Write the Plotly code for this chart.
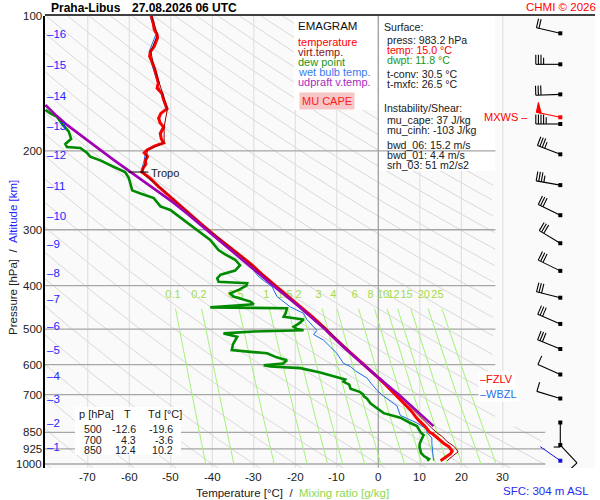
import numpy as np
import plotly.graph_objects as go

W, H = 600, 500
ML, MR, MT, MB = 45, 5, 16, 32
PW, PH = W - ML - MR, H - MT - MB
DEC_PX = 448.0                      # pixels per decade of pressure
T_MIN, T_MAX = -80.3, 52.2
PX_T = PW / (T_MAX - T_MIN)
LOGP_BOTTOM = 2 + PH / DEC_PX
T_CLIP_UP, T_CLIP_LOW, P_SPLIT = 28.2, 40.2, 820
FONT = "Liberation Sans, Arial, sans-serif"

# ---- sounding data ----
T_P = [983.2, 975, 961, 948, 936, 925, 915, 900, 885, 870, 855, 850, 823, 800, 785, 760, 730, 700,
       670, 643, 620, 600, 570, 540, 506, 500, 470, 446, 420, 400, 380, 357, 333, 310, 290, 270,
       257, 240, 230, 223, 218, 214, 210, 206, 202, 199, 195, 192, 188, 183, 177, 173, 169, 165,
       161, 158, 153, 149, 145, 141, 137, 132, 128, 123, 120, 117, 115, 112, 110, 107, 104, 102, 100]
T_C = [15.0, 15.6, 16.5, 17.4, 17.8, 17.4, 17.0, 15.8, 14.9, 14.1, 13.0, 12.4, 11.2, 9.8, 9.0, 7.9, 6.1, 4.3,
       2.1, 0.1, -1.8, -3.7, -6.3, -9.0, -12.2, -12.6, -15.8, -18.8, -22.0, -24.8, -27.6, -30.8, -34.9, -39.2, -42.9, -46.8,
       -49.3, -53.0, -55.0, -57.0, -56.6, -56.0, -56.1, -55.6, -56.4, -55.7, -53.8, -51.7, -52.3, -52.5, -51.7, -52.6, -52.9, -52.4,
       -50.9, -51.3, -51.8, -52.1, -53.3, -53.0, -53.3, -53.8, -54.3, -55.1, -54.9, -54.0, -53.7, -53.2, -53.3, -54.0, -54.2, -54.5, -54.7]

TV_P = [983.2, 970, 955, 940, 925, 910, 890, 870, 850, 830, 810, 785, 760, 730, 700, 643, 600, 500, 400,
        333, 290, 257, 223, 210, 199, 192, 177, 161, 149, 137, 128, 120, 110, 100]
TV_C = [16.6, 17.3, 18.2, 19.2, 18.8, 18.0, 16.5, 15.5, 14.0, 12.8, 11.6, 10.2, 8.6, 6.8, 4.9, 0.5, -3.5, -12.4, -24.7,
        -34.8, -42.8, -49.2, -56.9, -56.0, -55.6, -51.6, -51.6, -50.8, -52.0, -53.2, -54.2, -54.8, -53.2, -54.6]

TD_P = [983.2, 975, 960, 945, 930, 915, 899, 880, 862, 850, 835, 823, 810, 795, 788, 770, 759, 745, 732, 715,
        706, 700, 690, 679, 665, 655, 648, 640, 625, 611, 606, 602, 597, 592, 587, 578, 571, 566, 562, 557,
        540, 520, 511, 506, 503, 500, 494, 485, 476, 469, 460, 449, 447, 440, 434, 428, 423, 416, 408, 400,
        395, 392, 385, 378, 370, 360, 350, 340, 333, 316, 300, 285, 271, 266, 255, 249, 245, 230, 223, 217,
        210, 206, 202, 197, 196, 193, 188, 181, 175, 168, 165, 162]
TD_C = [11.8, 12.2, 11.0, 10.3, 10.1, 9.9, 10.0, 10.4, 10.9, 10.2, 9.8, 9.3, 7.7, 6.0, 5.3, 1.3, 0.5, -0.8, -1.9, -2.7,
        -3.5, -3.6, -4.5, -6.7, -7.0, -8.4, -8.0, -10.0, -14.0, -18.8, -26.0, -27.6, -23.0, -22.5, -22.0, -24.5, -26.0, -26.8, -30.8, -35.3,
        -35.0, -34.0, -37.3, -30.0, -18.0, -19.6, -20.4, -19.0, -18.0, -22.8, -22.3, -22.0, -40.5, -30.0, -30.8, -33.0, -34.9, -35.7, -33.5, -31.8,
        -31.6, -38.5, -38.8, -38.0, -34.5, -33.3, -34.5, -37.0, -38.5, -40.5, -43.7, -46.9, -50.1, -52.5, -54.1, -57.3, -59.3, -60.1, -61.0, -63.8,
        -67.0, -69.4, -70.2, -71.8, -75.0, -75.4, -74.0, -74.6, -76.0, -77.4, -79.0, -80.2]

TW_P = [983.2, 960, 930, 900, 875, 850, 836, 810, 779, 742, 706, 685, 660, 643, 620, 606, 596, 566, 529, 514,
        503, 476, 461, 446, 423, 402, 382, 363, 333, 290, 257, 223, 210, 199, 192, 183, 177, 169, 161, 149,
        137, 128, 120, 110, 100]
TW_C = [13.3, 13.2, 12.9, 12.9, 12.9, 11.7, 11.7, 9.3, 5.3, 4.5, 1.3, -0.3, -1.8, -2.7, -5.5, -6.7, -8.4, -10.0, -13.2, -15.6,
        -14.8, -17.2, -18.0, -21.2, -24.4, -25.6, -28.8, -30.8, -35.2, -43.2, -49.6, -57.2, -56.4, -56.0, -52.0, -52.8, -52.0, -53.2, -51.2, -52.4,
        -53.6, -54.6, -55.2, -53.6, -55.0]

UP_P = [823, 800, 760, 700, 643, 600, 550, 500, 446, 400, 360, 330, 295, 276, 260, 240, 221, 210, 199, 187, 175, 166, 158]
UP_C = [13.3, 11.8, 9.0, 4.9, 0.1, -3.6, -8.2, -12.9, -19.0, -25.3, -31.2, -35.9, -42.3, -46.1, -49.6, -54.9, -60.5, -63.6, -67.0, -71.0, -75.0, -77.8, -80.2]

TROPO_P, TROPO_T = 223, -57.0
FZLV_P, WBZL_P = 646, 699

# wind barbs: pressure, direction (deg), speed (kt)
WIND_P = [109.3, 128.2, 149.6, 174.2, 203.6, 238.5, 278.4, 321.5, 370.6, 425.4, 486.8, 553.8, 631.3, 714.2, 808, 907]
WIND_DIR = [283, 270, 268, 270, 291, 280, 296, 301, 296, 284, 293, 292, 294, 287, 180, 137]
WIND_SPD = [20, 35, 30, 45, 35, 35, 30, 30, 30, 30, 30, 30, 10, 10, 5, 10]
MXWS_P, MXWS_DIR, MXWS_SPD = 168.3, 282, 50
SFC_P, SFC_DIR, SFC_SPD = 983.2, 305, 0

# altitude scale (km) on the pressure axis
ALT_KM = list(range(1, 17))
ALT_P = [916, 810, 716, 636, 557, 492, 428, 375, 323, 280, 240, 204, 176, 151, 128.6, 109.7]

P_LEVELS = [200, 300, 400, 500, 600, 700, 850, 925, 1000]
P_TICKS = [100, 200, 300, 400, 500, 600, 700, 850, 925, 1000]
T_TICKS = [-70, -60, -50, -40, -30, -20, -10, 0, 10, 20, 30]
MIX_W = [0.1, 0.2, 0.5, 1, 1.5, 2, 3, 4, 6, 8, 10, 12, 15, 20, 25]
MIX_LBL = ["0.1", "0.2", "0.5", "1", "1.5", "2", "3", "4", "6", "8", "10", "12", "15", "20", "25"]

TABLE_P = ["500", "700", "850"]
TABLE_T = ["-12.6", "4.3", "12.4"]
TABLE_TD = ["-19.6", "-3.6", "10.2"]

SURFACE_LINES = [("Surface:", "#202020", 0), ("press: 983.2 hPa", "#202020", 1), ("temp: 15.0 °C", "#ff0000", 1),
                 ("dwpt: 11.8 °C", "#1a961a", 1), ("t-conv: 30.5 °C", "#202020", 1), ("t-mxfc: 26.5 °C", "#202020", 1),
                 ("Instability/Shear:", "#202020", 0), ("mu_cape: 37 J/kg", "#202020", 1), ("mu_cinh: -103 J/kg", "#202020", 1),
                 ("bwd_06: 15.2 m/s", "#202020", 1), ("bwd_01: 4.4 m/s", "#202020", 1), ("srh_03: 51 m2/s2", "#202020", 1)]
SURFACE_Y = [27, 40, 50, 60, 74, 84, 108, 120, 130, 145, 155, 165]
LEGEND_LINES = [("temperature", "#ff0000"), ("virt.temp.", "#8c1010"), ("dew point", "#1a961a"),
                ("wet bulb temp.", "#3a78f0"), ("udpraft v.temp.", "#a82cc0")]


def ypix(p):
    return MT + DEC_PX * np.log10(p / 100.0)


def paper_x(x):
    return (x - ML) / PW


def paper_y(y):
    return (MT + PH - y) / PH


def pfrom_px(y):
    return 100.0 * 10 ** ((y - MT) / DEC_PX)


def tfrom_px(x):
    return T_MIN + (x - ML) / PX_T


def segs(lines):
    xs, ys = [], []
    for lx, ly in lines:
        xs += list(lx) + [None]
        ys += list(ly) + [None]
    return xs, ys


def line_trace(xs, ys, color, width=1.0):
    return go.Scatter(x=xs, y=ys, mode="lines", line=dict(color=color, width=width),
                      hoverinfo="skip", showlegend=False)


fig = go.Figure()

# dry adiabats
p_line = np.geomspace(100, 1000 * 10 ** ((PH - DEC_PX) / DEC_PX), 220)
adia = []
for t0 in range(-120, 330, 10):
    t = (t0 + 273.15) * (p_line / 1000.0) ** 0.286 - 273.15
    lim = np.where(p_line < P_SPLIT, T_CLIP_UP, T_CLIP_LOW)
    tt = [float(a) if a <= l else None for a, l in zip(t, lim)]
    adia.append((tt, p_line.tolist()))
fig.add_trace(line_trace(*segs(adia), "#d9d9d9", 1))

# light isotherms
iso = [([t, t], [100, 1020]) for t in T_TICKS if t != 0]
fig.add_trace(line_trace(*segs(iso), "#dcdcdc", 1))

# white text boxes (cover adiabats / isotherms)
for x0, x1, y0, y1 in [(294, 377, 16, 110), (379, 495, 16, 171)]:
    t0, t1 = tfrom_px(x0), tfrom_px(x1)
    p0, p1 = pfrom_px(y0), pfrom_px(y1)
    fig.add_trace(go.Scatter(x=[t0, t1, t1, t0, t0], y=[p0, p0, p1, p1, p0], fill="toself",
                             fillcolor="white", mode="lines", line=dict(width=0),
                             hoverinfo="skip", showlegend=False))

# isobars and 0 degC isotherm
iso_p = [([T_MIN, T_CLIP_LOW if p > P_SPLIT else T_CLIP_UP], [p, p]) for p in P_LEVELS]
fig.add_trace(line_trace(*segs(iso_p), "#a6a6a6", 1.3))
fig.add_trace(line_trace([0, 0], [100, 1020], "#a0a0a0", 1.3))

# mixing ratio lines
p_mix = np.geomspace(450, 1000, 30)
mix = []
for w in MIX_W:
    e = w * p_mix / (622.0 + w)
    lg = np.log(e / 6.112)
    mix.append(((243.5 * lg / (17.67 - lg)).tolist(), p_mix.tolist()))
fig.add_trace(line_trace(*segs(mix), "#a6f27a", 1))
lbl_t = []
for w in MIX_W:
    e = w * 420.0 / (622.0 + w)
    lg = np.log(e / 6.112)
    lbl_t.append(243.5 * lg / (17.67 - lg))
fig.add_trace(go.Scatter(x=lbl_t, y=[pfrom_px(295)] * len(MIX_W), mode="text", text=MIX_LBL,
                         textfont=dict(family=FONT, size=11, color="#a2dc48"),
                         hoverinfo="skip", showlegend=False))

# profiles
fig.add_trace(line_trace(TD_C, TD_P, "#008a00", 2.6))
fig.add_trace(line_trace(TW_C, TW_P, "#1a6ee8", 1))
fig.add_trace(line_trace(T_C, T_P, "#ff0000", 3))
fig.add_trace(line_trace(TV_C, TV_P, "#990000", 1))
fig.add_trace(line_trace(UP_C, UP_P, "#a000b4", 2.6))

# tropopause mark
fig.add_trace(line_trace([TROPO_T - 3.2, TROPO_T + 1.6], [TROPO_P, TROPO_P], "black", 1))

# wind barbs
BARB_T = tfrom_px(560.3)
STAFF, FEATH, STEP, PEN_W = 24.5, 9.5, 2.6, 5.0


def barb(p, d, spd):
    a = np.radians(d)
    ux, uy = np.sin(a), -np.cos(a)
    fx, fy = np.sin(a + np.pi / 2), -np.cos(a + np.pi / 2)

    def to_data(dx, dy):
        return BARB_T + dx / PX_T, p * 10 ** (dy / DEC_PX)

    lines, tris = [], []
    q0, q1 = to_data(0, 0), to_data(ux * STAFF, uy * STAFF)
    lines.append(([q0[0], q1[0]], [q0[1], q1[1]]))
    s = int(round(spd / 5.0)) * 5
    n_pen, s = divmod(s, 50)
    n_full, s = divmod(s, 10)
    pos = STAFF
    for _ in range(n_pen):
        pts = [to_data(ux * pos, uy * pos), to_data(ux * pos + fx * FEATH * 1.05, uy * pos + fy * FEATH * 1.05),
               to_data(ux * (pos - PEN_W), uy * (pos - PEN_W)), to_data(ux * pos, uy * pos)]
        tris.append(([q[0] for q in pts], [q[1] for q in pts]))
        pos -= PEN_W + 1.5
    for k in range(n_full + (1 if s >= 5 else 0)):
        ln = FEATH if k < n_full else FEATH * 0.7
        b, e = to_data(ux * pos, uy * pos), to_data(ux * pos + fx * ln, uy * pos + fy * ln)
        lines.append(([b[0], e[0]], [b[1], e[1]]))
        pos -= STEP
    return lines, tris


blk = []
for p, d, s in zip(WIND_P, WIND_DIR, WIND_SPD):
    blk += barb(p, d, s)[0]
fig.add_trace(line_trace(*segs(blk), "black", 1.1))
fig.add_trace(go.Scatter(x=[BARB_T] * len(WIND_P), y=WIND_P, mode="markers",
                         marker=dict(symbol="square", size=4, color="black"),
                         hoverinfo="skip", showlegend=False))
ml, mt = barb(MXWS_P, MXWS_DIR, MXWS_SPD)
fig.add_trace(line_trace(*segs(ml), "#ff0000", 1.1))
fig.add_trace(go.Scatter(x=segs(mt)[0], y=segs(mt)[1], mode="lines", fill="toself", fillcolor="#ff0000",
                         line=dict(color="#ff0000", width=1), hoverinfo="skip", showlegend=False))
fig.add_trace(go.Scatter(x=[BARB_T], y=[MXWS_P], mode="markers",
                         marker=dict(symbol="square", size=4, color="#ff0000"), hoverinfo="skip", showlegend=False))
sl = barb(SFC_P, SFC_DIR, SFC_SPD)[0]
fig.add_trace(line_trace(*segs(sl), "#1010e0", 1))
fig.add_trace(go.Scatter(x=[BARB_T], y=[SFC_P], mode="markers",
                         marker=dict(symbol="square", size=4, color="#1010e0"), hoverinfo="skip", showlegend=False))

ann = []


def txt(x, y, s, color="#202020", size=11, anchor="left", bg=None, pad=0, angle=0):
    ann.append(dict(x=paper_x(x), y=paper_y(y), xref="paper", yref="paper", text=s, showarrow=False,
                    xanchor=anchor, yanchor="middle", textangle=angle, bgcolor=bg, borderpad=pad,
                    font=dict(family=FONT, size=size, color=color)))


# tick labels
for t in T_TICKS:
    txt(ML + (t - T_MIN) * PX_T, 476.5, str(t), size=11.5, anchor="center")
for p in P_TICKS:
    txt(42.5, ypix(p), str(p), size=11.5, anchor="right")

# altitude scale
for km, p in zip(ALT_KM, ALT_P):
    txt(46, ypix(p), "–%d" % km, color="#2424ff", size=11.5)

# title and labels
txt(50, 8, "<b>Praha-Libus</b>", color="black", size=12)
txt(130.5, 8, "<b>27.08.2026 06 UTC</b>", color="black", size=12)
txt(597, 7, "CHMI © 2026", color="#ff0000", size=11.5, anchor="right")
txt(297, 26, "EMAGRAM", color="#101010", size=11.5)
for (s, c), y in zip(LEGEND_LINES, [42, 52, 62, 72, 82]):
    txt(297, y, s, color=c, size=11)
txt(327, 101, "MU CAPE", color="#ff1a1a", size=11, anchor="center", bg="#f7c6c6", pad=2)
for (s, c, ind), y in zip(SURFACE_LINES, SURFACE_Y):
    txt(382.5 + 3.5 * ind, y, s, color=c, size=10.6)
txt(150, ypix(TROPO_P) + 1, "Tropo", color="#202020", size=11)
txt(478, ypix(FZLV_P), "–FZLV", color="#ff0000", size=11, bg="white", pad=1)
txt(478, ypix(WBZL_P), "–WBZL", color="#2a6ee8", size=11, bg="white", pad=1)
txt(529, ypix(MXWS_P), "MXWS –", color="#ff0000", size=11, anchor="right")

# mandatory-level table
txt(78, 414, "p [hPa]", size=11)
txt(127, 414, "T", size=11, anchor="center")
txt(147, 414, "Td [°C]", size=11)
for i, y in enumerate([429, 439.5, 449.5]):
    txt(102.5, y, TABLE_P[i], size=10.6, anchor="right")
    txt(136.8, y, TABLE_T[i], size=10.6, anchor="right")
    txt(174, y, TABLE_TD[i], size=10.6, anchor="right")

# axis titles
txt(13, 258, "Pressure [hPa]&nbsp;&nbsp;/&nbsp;&nbsp;<span style='color:#2424ff'>Altitude [km]</span>",
    color="#202020", size=11.5, anchor="center", angle=-90)
txt(292, 493, "Temperature [°C]&nbsp;&nbsp;/&nbsp;&nbsp;<span style='color:#8ed850'>Mixing ratio [g/kg]</span>",
    color="#202020", size=11.5, anchor="center")
txt(590, 491, "SFC: 304 m ASL", color="#2a2af0", size=11.5, anchor="right")

shapes = [
    dict(type="line", xref="paper", yref="paper", x0=0, x1=1, y0=paper_y(15), y1=paper_y(15),
         line=dict(color="black", width=1.5)),
    dict(type="rect", xref="paper", yref="paper", x0=paper_x(75), x1=paper_x(181), y0=paper_y(455),
         y1=paper_y(407), fillcolor="white", line=dict(width=0), layer="above"),
]

fig.update_layout(
    width=W, height=H, margin=dict(l=ML, r=MR, t=MT, b=MB),
    paper_bgcolor="white", plot_bgcolor="#fafafa",
    font=dict(family=FONT, size=11.5, color="#202020"),
    showlegend=False, annotations=ann, shapes=shapes,
    xaxis=dict(range=[T_MIN, T_MAX], showticklabels=False, showgrid=False, zeroline=False, showline=False, ticks=""),
    yaxis=dict(type="log", range=[LOGP_BOTTOM, 2], showticklabels=False, showgrid=False, zeroline=False,
               showline=True, linecolor="black", linewidth=1.5, ticks=""),
)

fig.write_html("out.html", config={"displayModeBar": False},
               post_script="document.body.style.margin='0';")
